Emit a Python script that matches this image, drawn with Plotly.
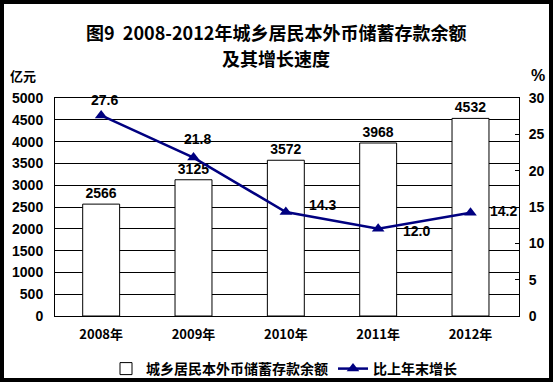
import plotly.graph_objects as go

years = ["2008年", "2009年", "2010年", "2011年", "2012年"]
deposits = [2566, 3125, 3572, 3968, 4532]
growth = [27.6, 21.8, 14.3, 12.0, 14.2]
growth_labels = ["27.6", "21.8", "14.3", "12.0", "14.2"]
bar_name = "城乡居民本外币储蓄存款余额"
line_name = "比上年末增长"
title_line1 = "图9  2008-2012年城乡居民本外币储蓄存款余额"
title_line2 = "及其增长速度"

# label offsets (pixels) for growth-rate labels
label_dx = [3, 4, 37, 38, 33]
label_dy = [15, 19, 7, -2, 2]

NUM = "Liberation Sans, Arial, Noto Sans CJK SC"
CJK = "Noto Sans CJK SC, Liberation Sans"

W, H = 553, 382
L, R, T, B = 55, 34, 98, 66

fig = go.Figure()
fig.add_trace(go.Bar(
    x=years, y=deposits, name=bar_name,
    marker=dict(color="white", line=dict(color="black", width=1)),
    text=[str(v) for v in deposits], textposition="outside",
    textfont=dict(family=NUM, size=14, color="black", weight="bold"),
    cliponaxis=False, width=0.4,
))
fig.add_trace(go.Scatter(
    x=years, y=growth, name=line_name, yaxis="y2", mode="lines+markers",
    line=dict(color="#000080", width=2.5),
    marker=dict(symbol="triangle-up", size=11, color="#000080"),
    cliponaxis=False,
))

for xv, yv, t, dx, dy in zip(years, growth, growth_labels, label_dx, label_dy):
    fig.add_annotation(x=xv, y=yv, xref="x", yref="y2", text="<b>" + t + "</b>", showarrow=False,
                       xshift=dx, yshift=dy,
                       font=dict(family=NUM, size=14, color="black"))

pw = W - L - R
ph = H - T - B
def px_x(p):
    return (p - L) / pw
def px_y(p):
    return (H - B - p) / ph

for txt, yy in ((title_line1, 32), (title_line2, 58)):
    fig.add_annotation(x=px_x(276), y=px_y(yy), xref="paper", yref="paper",
                       text="<b>" + txt + "</b>", showarrow=False,
                       xanchor="center", yanchor="middle",
                       font=dict(family=CJK, size=18, color="black"))

fig.add_annotation(x=px_x(8), y=px_y(75), xref="paper", yref="paper", text="<b>亿元</b>",
                   showarrow=False, xanchor="left", yanchor="middle",
                   font=dict(family=CJK, size=13, color="black"))
fig.add_annotation(x=px_x(529), y=px_y(75), xref="paper", yref="paper", text="<b>%</b>",
                   showarrow=False, xanchor="left", yanchor="middle",
                   font=dict(family=NUM, size=16, color="black"))

# outer black frame
fig.add_shape(type="rect", xref="paper", yref="paper",
              x0=px_x(2), x1=px_x(551), y0=px_y(380), y1=px_y(2),
              line=dict(color="black", width=4), fillcolor="rgba(0,0,0,0)", layer="above")

fig.update_layout(
    width=W, height=H, autosize=False,
    margin=dict(l=L, r=R, t=T, b=B, autoexpand=False),
    paper_bgcolor="white", plot_bgcolor="white",
    showlegend=True,
    legend=dict(orientation="h", x=px_x(284), xanchor="center", y=px_y(369), yanchor="middle",
                font=dict(family=CJK, size=14, color="black", weight="bold"),
                bgcolor="rgba(0,0,0,0)"),
    bargap=0.6,
    xaxis=dict(showline=True, linecolor="black", linewidth=1, mirror=True,
               showgrid=False, ticks="",
               tickfont=dict(family=CJK, size=13, color="black", weight="bold"),
               ticklabelstandoff=6),
    yaxis=dict(range=[0, 5000], dtick=500, showgrid=True, gridcolor="black", gridwidth=1,
               showline=True, linecolor="black", linewidth=1, ticks="",
               tickfont=dict(family=NUM, size=14, color="black", weight="bold"),
               ticklabelstandoff=8, zeroline=False),
    yaxis2=dict(range=[0, 30], dtick=5, overlaying="y", side="right", showgrid=False,
                showline=True, linecolor="black", linewidth=1,
                ticks="inside", ticklen=4, tickcolor="black",
                tickfont=dict(family=NUM, size=14, color="black", weight="bold"),
                ticklabelstandoff=6, zeroline=False),
)

fig.write_html("out.html", config={"responsive": False, "displayModeBar": False},
               post_script="document.body.style.margin='0';document.body.style.overflow='hidden';")
